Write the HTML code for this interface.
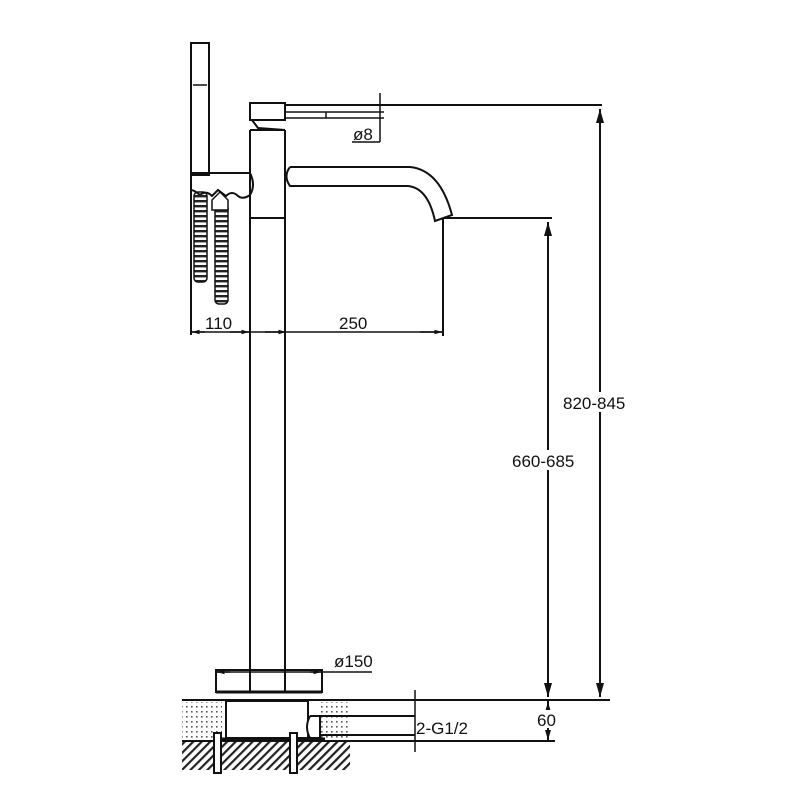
<!DOCTYPE html>
<html><head><meta charset="utf-8"><style>
html,body{margin:0;padding:0;background:#fff;}
svg{display:block;}
text{font-family:"Liberation Sans",sans-serif;font-size:17px;fill:#111;}
</style></head><body>
<svg width="800" height="800" viewBox="0 0 800 800" xmlns="http://www.w3.org/2000/svg">
<defs>
<pattern id="dots" width="5" height="5" patternUnits="userSpaceOnUse"><rect x="1" y="1" width="1.6" height="1.6" fill="#555"/></pattern>
<pattern id="hatch" width="6" height="6" patternUnits="userSpaceOnUse" patternTransform="rotate(45)"><rect width="2.2" height="6" fill="#222"/></pattern>
<pattern id="coil" width="12" height="5" patternUnits="userSpaceOnUse"><rect width="12" height="2.4" fill="#222"/></pattern>
<marker id="ar" markerWidth="8" markerHeight="8" refX="7" refY="4" orient="auto"><path d="M0,2 L7,4 L0,6 z" fill="#111"/></marker>
<marker id="sa" markerWidth="6" markerHeight="6" refX="5" refY="3" orient="auto"><path d="M0,1.5 L5,3 L0,4.5 z" fill="#111"/></marker>
</defs>
<g stroke="#111" stroke-width="2" fill="none">
<!-- handshower -->
<rect x="191" y="43" width="18" height="132"/>
<line x1="193" y1="85" x2="207" y2="85" stroke-width="1.5"/>
<path d="M191,173 L250,173 Q256,185 250,195 Q243,200 238,196 Q232,190 226,196 L218,190 L212,196 Q206,190 200,195 Q194,190 191,190"/>
<line x1="191" y1="175" x2="191" y2="335"/>
<!-- hoses -->
<rect x="194" y="192" width="13" height="90" rx="4" fill="url(#coil)" stroke-width="1.5"/>
<rect x="215" y="204" width="13" height="100" rx="4" fill="url(#coil)" stroke-width="1.5"/>
<path d="M212,210 L212,200 L220,192 L228,200 L228,210 z" fill="#fff" stroke-width="1.5"/>
<!-- column -->
<rect x="250" y="103" width="35" height="17"/>
<path d="M252,120 L258,128 L285,130"/>
<line x1="250" y1="130" x2="250" y2="692"/>
<line x1="285" y1="130" x2="285" y2="692"/>
<line x1="250" y1="218" x2="285" y2="218"/>
<line x1="250" y1="130" x2="285" y2="130"/>
<!-- lever / top line -->
<line x1="285" y1="105" x2="602" y2="105"/>
<line x1="285" y1="112" x2="384" y2="112" stroke-width="1.5"/>
<line x1="285" y1="118" x2="384" y2="118" stroke-width="1.5"/>
<line x1="326" y1="112" x2="326" y2="118" stroke-width="1.5"/>
<line x1="380" y1="93" x2="380" y2="142" stroke-width="1.5"/>
<line x1="352" y1="142" x2="380" y2="142" stroke-width="1.5"/>
<!-- spout -->
<path d="M290,167 L410,167 Q440,170 452,215 L435,221 Q428,188 408,186 L290,186 Q283,176 290,167"/>
<!-- dims 110/250 -->
<line x1="443" y1="218" x2="443" y2="336"/>
<line x1="443" y1="218" x2="552" y2="218"/>
<line x1="191" y1="332" x2="443" y2="332" stroke-width="1.5"/>
<line x1="250" y1="218" x2="250" y2="336"/>
<line x1="230" y1="332" x2="249" y2="332" stroke-width="1.5" marker-end="url(#sa)"/>
<line x1="205" y1="332" x2="192" y2="332" stroke-width="1.5" marker-end="url(#sa)"/>
<line x1="265" y1="332" x2="286" y2="332" stroke-width="1.5" marker-end="url(#sa)"/>
<line x1="420" y1="332" x2="442" y2="332" stroke-width="1.5" marker-end="url(#sa)"/>
<!-- 660 / 820 dims -->
<line x1="548" y1="460" x2="548" y2="222" marker-end="url(#ar)"/>
<line x1="548" y1="460" x2="548" y2="697" marker-end="url(#ar)"/>
<line x1="600" y1="400" x2="600" y2="109" marker-end="url(#ar)"/>
<line x1="600" y1="400" x2="600" y2="697" marker-end="url(#ar)"/>
<!-- base -->
<rect x="216" y="670" width="106" height="22"/>
<line x1="216" y1="672" x2="372" y2="672" stroke-width="1.5"/>
<line x1="230" y1="672" x2="217" y2="672" stroke-width="1.5" marker-end="url(#sa)"/>
<line x1="310" y1="672" x2="321" y2="672" stroke-width="1.5" marker-end="url(#sa)"/>
<line x1="216" y1="692" x2="322" y2="692" stroke-width="3"/>
</g>
<!-- ground -->
<rect x="182" y="702" width="40" height="36" fill="url(#dots)"/>
<rect x="318" y="702" width="32" height="36" fill="url(#dots)"/>
<rect x="182" y="742" width="168" height="28" fill="url(#hatch)"/>
<g stroke="#111" stroke-width="2" fill="none">
<line x1="182" y1="700" x2="610" y2="700"/>
<line x1="182" y1="741" x2="555" y2="741"/>
<rect x="226" y="701" width="82" height="37" fill="#fff"/>
<line x1="214" y1="739" x2="325" y2="739" stroke-width="3"/>
<rect x="214" y="733" width="7" height="40" fill="#fff"/>
<rect x="290" y="733" width="7" height="40" fill="#fff"/>
<path d="M310,716 L320,716 L320,738 L310,738 Q304,727 310,716" fill="#fff"/>
<line x1="320" y1="716" x2="415" y2="716"/>
<line x1="320" y1="735" x2="415" y2="735"/>
<line x1="415" y1="690" x2="415" y2="752" stroke-width="1.5"/>
<line x1="548" y1="700" x2="548" y2="741"/>
<line x1="548" y1="715" x2="548" y2="702" marker-end="url(#sa)"/>
<line x1="548" y1="728" x2="548" y2="740" marker-end="url(#sa)"/>
</g>
<!-- labels -->
<text x="205" y="329">110</text>
<text x="339" y="329">250</text>
<text x="353" y="140">ø8</text>
<text x="334" y="667">ø150</text>
<rect x="562" y="392" width="72" height="20" fill="#fff"/>
<text x="563" y="409">820-845</text>
<rect x="511" y="450" width="72" height="20" fill="#fff"/>
<text x="512" y="467">660-685</text>
<rect x="536" y="710" width="22" height="18" fill="#fff"/>
<text x="537" y="726">60</text>
<rect x="416" y="718" width="60" height="20" fill="#fff"/>
<text x="416" y="734">2-G1/2</text>
</svg>
</body></html>
